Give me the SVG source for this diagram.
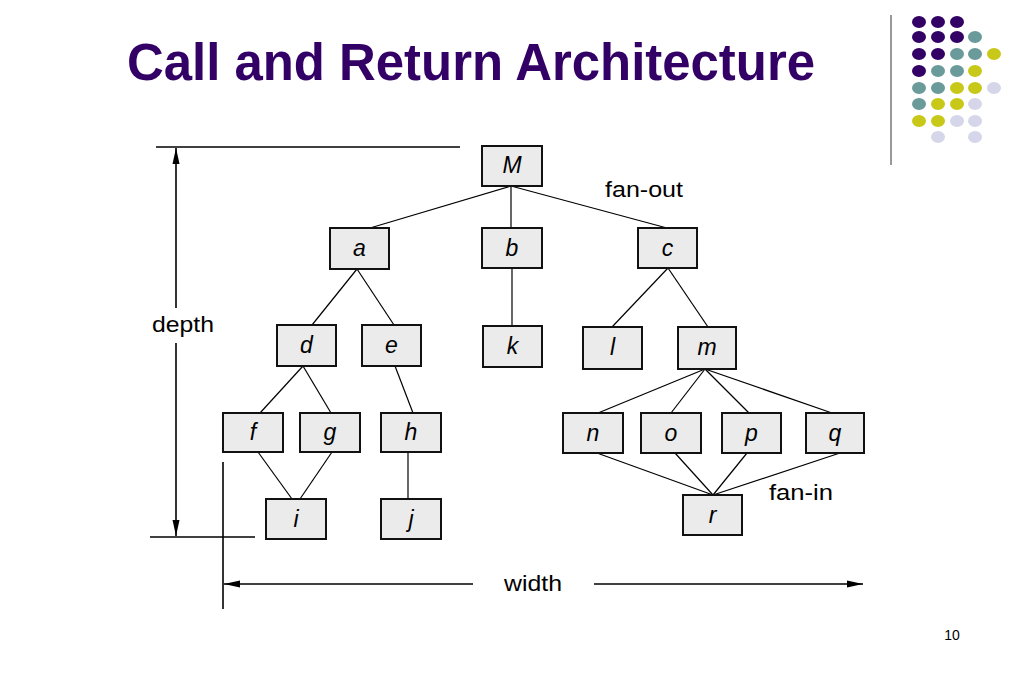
<svg xmlns="http://www.w3.org/2000/svg" width="1023" height="682" viewBox="0 0 1023 682">
<defs>
<style>
.title{font-family:"Liberation Sans",Arial,sans-serif;font-weight:bold;font-size:51px;fill:#330066}
.box{fill:#ebebeb;stroke:#111;stroke-width:2}
.lbl{font-family:"Liberation Sans",Arial,sans-serif;font-style:italic;font-size:23px;fill:#000;text-anchor:middle}
.ann{font-family:"Liberation Sans",Arial,sans-serif;font-size:22px;fill:#000}
.ln{stroke:#000;stroke-width:1.2;fill:none}
.dim{stroke:#000;stroke-width:1.6;fill:none}
.P{fill:#330066}.T{fill:#6a9a9a}.Y{fill:#c8c818}.L{fill:#d6d6ea}
</style>
<marker id="ah" viewBox="0 0 16 10" refX="16" refY="5" markerWidth="16" markerHeight="10" markerUnits="userSpaceOnUse" orient="auto">
<path d="M0,1.5 L16,5 L0,8.5 Z" fill="#000"/>
</marker>
</defs>
<rect width="1023" height="682" fill="#fff"/>
<text class="title" x="127" y="80" textLength="688" lengthAdjust="spacingAndGlyphs">Call and Return Architecture</text>
<g id="decor">
<line x1="891" y1="15" x2="891" y2="165" stroke="#777" stroke-width="1.5"/>
<g>
<ellipse class="P" cx="919" cy="22" rx="7" ry="6"/><ellipse class="P" cx="938" cy="22" rx="7" ry="6"/><ellipse class="P" cx="957" cy="22" rx="7" ry="6"/>
<ellipse class="P" cx="919" cy="37" rx="7" ry="6"/><ellipse class="P" cx="938" cy="37" rx="7" ry="6"/><ellipse class="P" cx="957" cy="37" rx="7" ry="6"/><ellipse class="T" cx="975" cy="37" rx="7" ry="6"/>
<ellipse class="P" cx="919" cy="54" rx="7" ry="6"/><ellipse class="P" cx="938" cy="54" rx="7" ry="6"/><ellipse class="T" cx="957" cy="54" rx="7" ry="6"/><ellipse class="T" cx="975" cy="54" rx="7" ry="6"/><ellipse class="Y" cx="994" cy="54" rx="7" ry="6"/>
<ellipse class="P" cx="919" cy="71" rx="7" ry="6"/><ellipse class="T" cx="938" cy="71" rx="7" ry="6"/><ellipse class="T" cx="957" cy="71" rx="7" ry="6"/><ellipse class="Y" cx="975" cy="71" rx="7" ry="6"/>
<ellipse class="T" cx="919" cy="88" rx="7" ry="6"/><ellipse class="T" cx="938" cy="88" rx="7" ry="6"/><ellipse class="Y" cx="957" cy="88" rx="7" ry="6"/><ellipse class="Y" cx="975" cy="88" rx="7" ry="6"/><ellipse class="L" cx="994" cy="88" rx="7" ry="6"/>
<ellipse class="T" cx="919" cy="104" rx="7" ry="6"/><ellipse class="Y" cx="938" cy="104" rx="7" ry="6"/><ellipse class="Y" cx="957" cy="104" rx="7" ry="6"/><ellipse class="L" cx="975" cy="104" rx="7" ry="6"/>
<ellipse class="Y" cx="919" cy="121" rx="7" ry="6"/><ellipse class="Y" cx="938" cy="121" rx="7" ry="6"/><ellipse class="L" cx="957" cy="121" rx="7" ry="6"/><ellipse class="L" cx="975" cy="121" rx="7" ry="6"/>
<ellipse class="L" cx="938" cy="137" rx="7" ry="6"/><ellipse class="L" cx="975" cy="137" rx="7" ry="6"/>
</g>
<text x="952" y="640" font-family="'Liberation Sans',Arial,sans-serif" font-size="14" text-anchor="middle" fill="#000">10</text>
</g>
<g id="dimensions">
<line class="dim" x1="156" y1="147" x2="460" y2="147"/>
<line class="dim" x1="176" y1="308" x2="176" y2="148" marker-end="url(#ah)"/>
<line class="dim" x1="176" y1="343" x2="176" y2="536" marker-end="url(#ah)"/>
<line class="dim" x1="150" y1="537" x2="255" y2="537"/>
<line class="dim" x1="223" y1="462" x2="223" y2="609"/>
<line class="dim" x1="473" y1="584" x2="224" y2="584" marker-end="url(#ah)"/>
<line class="dim" x1="594" y1="584" x2="863" y2="584" marker-end="url(#ah)"/>
<text class="ann" x="152" y="332" textLength="62" lengthAdjust="spacingAndGlyphs">depth</text>
<text class="ann" x="504" y="591" textLength="58" lengthAdjust="spacingAndGlyphs">width</text>
<text class="ann" x="605" y="197" textLength="78" lengthAdjust="spacingAndGlyphs">fan-out</text>
<text class="ann" x="769" y="500" textLength="64" lengthAdjust="spacingAndGlyphs">fan-in</text>
</g>
<g id="connectors">
<line class="ln" x1="511" y1="186" x2="370" y2="228"/>
<line class="ln" x1="511" y1="186" x2="511" y2="228"/>
<line class="ln" x1="511" y1="186" x2="667" y2="228"/>
<line class="ln" x1="357" y1="269" x2="312" y2="325"/>
<line class="ln" x1="357" y1="269" x2="394" y2="325"/>
<line class="ln" x1="512" y1="268" x2="512" y2="326"/>
<line class="ln" x1="668" y1="268" x2="612" y2="327"/>
<line class="ln" x1="668" y1="268" x2="708" y2="327"/>
<line class="ln" x1="303" y1="366" x2="260" y2="413"/>
<line class="ln" x1="303" y1="366" x2="331" y2="413"/>
<line class="ln" x1="395" y1="366" x2="413" y2="413"/>
<line class="ln" x1="258" y1="452" x2="292" y2="499"/>
<line class="ln" x1="332" y1="452" x2="300" y2="499"/>
<line class="ln" x1="408" y1="452" x2="408" y2="499"/>
<line class="ln" x1="705" y1="369" x2="598" y2="413"/>
<line class="ln" x1="705" y1="369" x2="671" y2="413"/>
<line class="ln" x1="705" y1="369" x2="749" y2="413"/>
<line class="ln" x1="705" y1="369" x2="832" y2="413"/>
<line class="ln" x1="597" y1="453" x2="713" y2="495"/>
<line class="ln" x1="675" y1="453" x2="713" y2="495"/>
<line class="ln" x1="747" y1="453" x2="713" y2="495"/>
<line class="ln" x1="840" y1="453" x2="713" y2="495"/>
</g>
<g id="node-M"><rect class="box" x="482" y="146" width="60" height="40"/><text class="lbl" x="512" y="173">M</text></g>
<g id="node-a"><rect class="box" x="330" y="228" width="59" height="41" stroke-width="2.6"/><text class="lbl" x="359.5" y="256">a</text></g>
<g id="node-b"><rect class="box" x="482" y="228" width="60" height="40"/><text class="lbl" x="512" y="256">b</text></g>
<g id="node-c"><rect class="box" x="638" y="228" width="59" height="40"/><text class="lbl" x="667.5" y="256">c</text></g>
<g id="node-d"><rect class="box" x="277" y="325" width="59" height="41"/><text class="lbl" x="306.5" y="353">d</text></g>
<g id="node-e"><rect class="box" x="362" y="325" width="59" height="41"/><text class="lbl" x="391.5" y="353">e</text></g>
<g id="node-k"><rect class="box" x="483" y="326" width="59" height="41" stroke-width="2.4"/><text class="lbl" x="512.5" y="354">k</text></g>
<g id="node-l"><rect class="box" x="583" y="327" width="59" height="42" stroke-width="2.4"/><text class="lbl" x="612.5" y="355">l</text></g>
<g id="node-m"><rect class="box" x="678" y="327" width="58" height="42"/><text class="lbl" x="707" y="355">m</text></g>
<g id="node-f"><rect class="box" x="223" y="413" width="60" height="39"/><text class="lbl" x="253" y="440">f</text></g>
<g id="node-g"><rect class="box" x="300" y="413" width="60" height="39"/><text class="lbl" x="330" y="440">g</text></g>
<g id="node-h"><rect class="box" x="381" y="413" width="60" height="39"/><text class="lbl" x="411" y="440">h</text></g>
<g id="node-i"><rect class="box" x="266" y="499" width="60" height="40"/><text class="lbl" x="296" y="527">i</text></g>
<g id="node-j"><rect class="box" x="381" y="499" width="60" height="40"/><text class="lbl" x="411" y="527">j</text></g>
<g id="node-n"><rect class="box" x="563" y="413" width="60" height="40"/><text class="lbl" x="593" y="441">n</text></g>
<g id="node-o"><rect class="box" x="641" y="413" width="60" height="40"/><text class="lbl" x="671" y="441">o</text></g>
<g id="node-p"><rect class="box" x="722" y="413" width="59" height="40"/><text class="lbl" x="751.5" y="441">p</text></g>
<g id="node-q"><rect class="box" x="806" y="413" width="58" height="40"/><text class="lbl" x="835" y="441">q</text></g>
<g id="node-r"><rect class="box" x="683" y="495" width="59" height="40"/><text class="lbl" x="712.5" y="523">r</text></g>
</svg>
